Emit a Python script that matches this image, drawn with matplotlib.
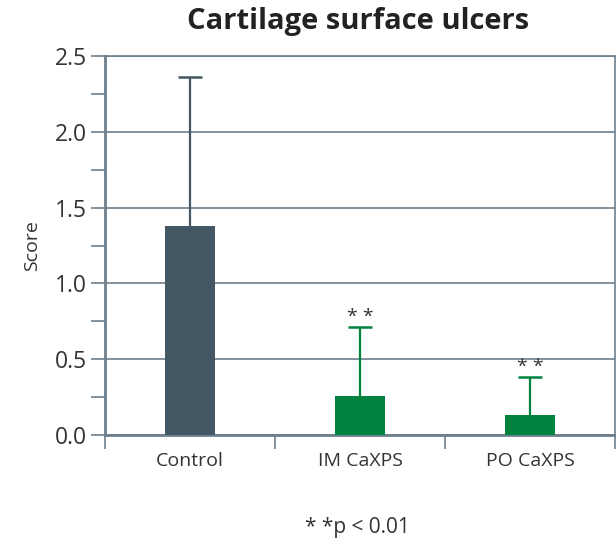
import numpy as np
import matplotlib.pyplot as plt

groups = ['Control', 'IM CaXPS', 'PO CaXPS']
scores = [1.38, 0.26, 0.13]
sd = [0.98, 0.45, 0.25]
signif = ['', '* *', '* *']

bar_colors = ['#435864', '#00833e', '#00833e']
axis_color = '#6d7f8c'

plt.rcParams['font.family'] = ['Open Sans', 'DejaVu Sans']

fig = plt.figure(figsize=(6.16, 5.44), dpi=100)
ax = fig.add_axes([105 / 616, 1 - 435 / 544, 510 / 616, 379 / 544])

x = np.arange(len(groups))
ax.bar(x, scores, width=0.294, color=bar_colors, zorder=3)

# upper error bars only, with a cap at the top
cap = 0.068
for xi, s, e, c, lab in zip(x, scores, sd, bar_colors, signif):
    ax.vlines(xi, s, s + e, color=c, linewidth=1.6, zorder=4)
    ax.hlines(s + e, xi - cap, xi + cap, color=c, linewidth=1.8, zorder=4)
    if lab:
        ax.text(xi, s + e + 0.01, lab, ha='center', va='bottom',
                fontsize=14, color='#333333')

ax.set_xlim(-0.5, 2.5)
ax.set_ylim(0, 2.5)
ax.set_yticks(np.arange(0, 2.51, 0.5))
ax.set_yticklabels(['%.1f' % v for v in np.arange(0, 2.51, 0.5)])
ax.set_yticks(np.arange(0.25, 2.5, 0.5), minor=True)
ax.yaxis.grid(True, which='major', color=axis_color, linewidth=1.2, zorder=0)

# category labels between boundary tick marks
ax.set_xticks([-0.5, 0.5, 1.5, 2.5])
ax.set_xticklabels([])
ax.set_xticks(x, minor=True)
ax.set_xticklabels(groups, minor=True)
ax.tick_params(axis='x', which='minor', length=0, pad=12, labelsize=14,
               labelcolor='#333333')
ax.tick_params(axis='x', which='major', length=10, width=1.2, color=axis_color)
ax.tick_params(axis='y', which='both', length=10, width=1.2, color=axis_color,
               labelsize=16.5, labelcolor='#333333', pad=3)

for side in ['left', 'bottom', 'right', 'top']:
    ax.spines[side].set_color(axis_color)
    ax.spines[side].set_linewidth(2)
ax.spines['top'].set_linewidth(1.2)
ax.spines['right'].set_linewidth(1.2)

ax.set_ylabel('Score', fontsize=14, color='#333333', labelpad=10)

fig.text(358 / 616, 1 - 22 / 544, 'Cartilage surface ulcers', ha='center',
         va='center', fontsize=21, fontweight='bold', color='#222222')
fig.text(357 / 616, 1 - 527 / 544, '* *p < 0.01', ha='center', va='center',
         fontsize=15, color='#333333')

fig.savefig('out.png', dpi=100)
